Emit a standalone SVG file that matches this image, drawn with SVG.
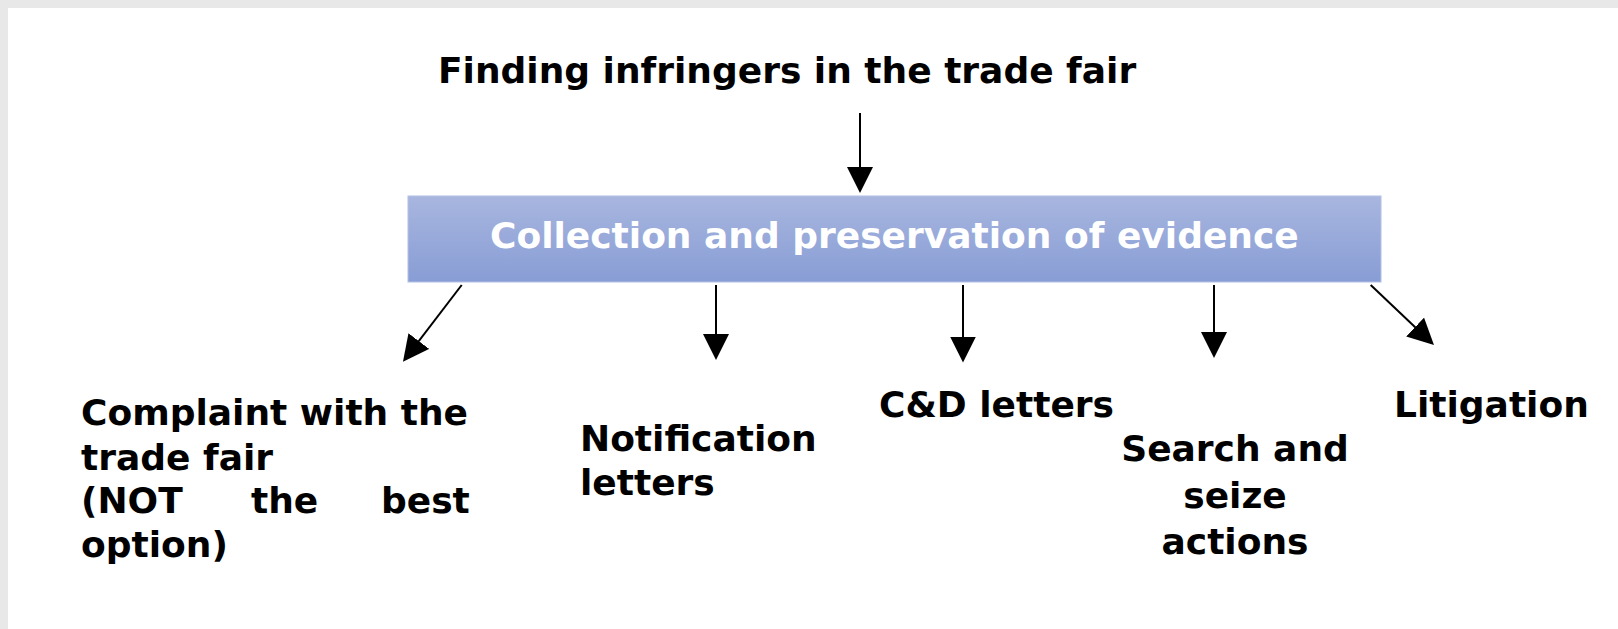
<svg xmlns="http://www.w3.org/2000/svg" width="1618" height="629" viewBox="0 0 1618 629">
  <style>
    .lbl { font-family: "DejaVu Sans", Verdana, sans-serif; font-weight: bold; font-size: 36px; fill: #000; }
    .boxlbl { font-family: "DejaVu Sans", Verdana, sans-serif; font-weight: bold; font-size: 36px; fill: #ffffff; }
    .conn { stroke: #000; stroke-width: 2; fill: none; marker-end: url(#arrow); }
  </style>
  <defs>
    <linearGradient id="boxgrad" x1="0" y1="0" x2="0" y2="1">
      <stop offset="0" stop-color="#a8b6df"/>
      <stop offset="1" stop-color="#889dd5"/>
    </linearGradient>
    <marker id="arrow" markerUnits="userSpaceOnUse" markerWidth="26" markerHeight="26" viewBox="0 0 26 26" refX="23" refY="13" orient="auto">
      <path d="M0,0 L26,13 L0,26 z" fill="#000"/>
    </marker>
  </defs>
  <rect x="0" y="0" width="1618" height="629" fill="#e8e8e8"/>
  <rect x="8" y="8" width="1610" height="621" fill="#ffffff"/>

  <g id="node-title">
    <text class="lbl" x="438" y="83">Finding infringers in the trade fair</text>
  </g>

  <g id="node-evidence">
    <rect x="408" y="196" width="973" height="86" fill="url(#boxgrad)" stroke="#b4c0e6" stroke-width="1"/>
    <text class="boxlbl" x="490" y="248">Collection and preservation of evidence</text>
  </g>

  <g id="node-complaint">
    <text class="lbl" x="81" y="425">Complaint with the</text>
    <text class="lbl" x="81" y="470">trade fair</text>
    <text class="lbl" y="513"><tspan x="81">(NOT</tspan><tspan x="251">the</tspan><tspan x="381">best</tspan></text>
    <text class="lbl" x="81" y="557">option)</text>
  </g>

  <g id="node-notification">
    <text class="lbl" x="580" y="451">Notification</text>
    <text class="lbl" x="580" y="495">letters</text>
  </g>

  <g id="node-cd">
    <text class="lbl" x="879" y="417">C&amp;D letters</text>
  </g>

  <g id="node-search">
    <text class="lbl" x="1235" y="461" text-anchor="middle">Search and</text>
    <text class="lbl" x="1235" y="508" text-anchor="middle">seize</text>
    <text class="lbl" x="1235" y="554" text-anchor="middle">actions</text>
  </g>

  <g id="node-litigation">
    <text class="lbl" x="1394" y="417">Litigation</text>
  </g>

  <g id="connectors">
    <line class="conn" x1="860" y1="113" x2="860" y2="190"/>
    <line class="conn" x1="461.7" y1="285" x2="404.8" y2="359.3"/>
    <line class="conn" x1="716" y1="285" x2="716" y2="357"/>
    <line class="conn" x1="963" y1="285" x2="963" y2="359.5"/>
    <line class="conn" x1="1214" y1="285" x2="1214" y2="355"/>
    <line class="conn" x1="1370.7" y1="285" x2="1431.8" y2="342.9"/>
  </g>
</svg>
